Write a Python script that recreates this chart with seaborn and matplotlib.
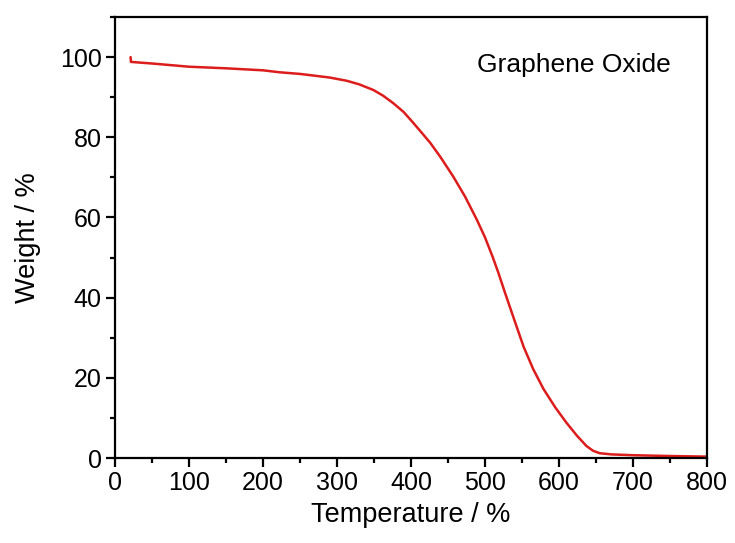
import matplotlib
matplotlib.use("Agg")
import matplotlib.pyplot as plt
from matplotlib.ticker import MultipleLocator
import seaborn as sns
import pandas as pd

# TGA curve
temperature = [21, 21.5, 50, 100, 150, 200, 223, 250, 268, 290, 313, 330, 349,
               362, 376, 390, 403, 415, 426, 440, 457, 473, 489, 500, 510, 518,
               527, 540, 552, 565, 579, 595, 610, 624, 637, 646, 655, 671, 700,
               750, 800]
weight = [100, 98.8, 98.4, 97.6, 97.2, 96.7, 96.2, 95.8, 95.4, 94.9, 94.1, 93.2,
          91.8, 90.4, 88.5, 86.3, 83.6, 81.0, 78.6, 75.0, 70.2, 65.2, 59.4, 55.0,
          50.3, 46.2, 41.2, 34.2, 27.8, 22.2, 17.2, 12.6, 8.8, 5.6, 3.0, 1.8,
          1.2, 0.9, 0.7, 0.5, 0.35]

sample_label = "Graphene Oxide"
x_label = "Temperature / %"
y_label = "Weight / %"

df = pd.DataFrame({"T": temperature, "W": weight})

sns.set_theme(style="ticks")
plt.rcParams["font.family"] = ["Liberation Sans", "DejaVu Sans"]

fig = plt.figure(figsize=(7.35, 5.43), dpi=100)
ax = fig.add_axes([0.1565, 0.1565, 0.8055, 0.8122])

sns.lineplot(data=df, x="T", y="W", ax=ax, color="#dd1c1c", linewidth=1.8,
             sort=False, estimator=None)

ax.set_xlim(0, 800)
ax.set_ylim(0, 110)
ax.xaxis.set_major_locator(MultipleLocator(100))
ax.xaxis.set_minor_locator(MultipleLocator(50))
ax.yaxis.set_major_locator(MultipleLocator(20))
ax.yaxis.set_minor_locator(MultipleLocator(10))

for s in ax.spines.values():
    s.set_linewidth(1.6)
    s.set_color("black")

ax.tick_params(which="major", direction="out", length=6.5, width=1.6,
               labelsize=18, colors="black", labelcolor="black", pad=3)
ax.tick_params(which="minor", direction="out", length=3.5, width=1.6,
               colors="black")
ax.tick_params(top=False, right=False, which="both")

ax.set_xlabel(x_label, fontsize=19.5, labelpad=5, color="black")
ax.set_ylabel(y_label, fontsize=19.5, labelpad=14, color="black")

ax.text(0.611, 0.891, sample_label, transform=ax.transAxes, fontsize=19,
        ha="left", va="center", color="black")

fig.savefig("out.png", dpi=100)
